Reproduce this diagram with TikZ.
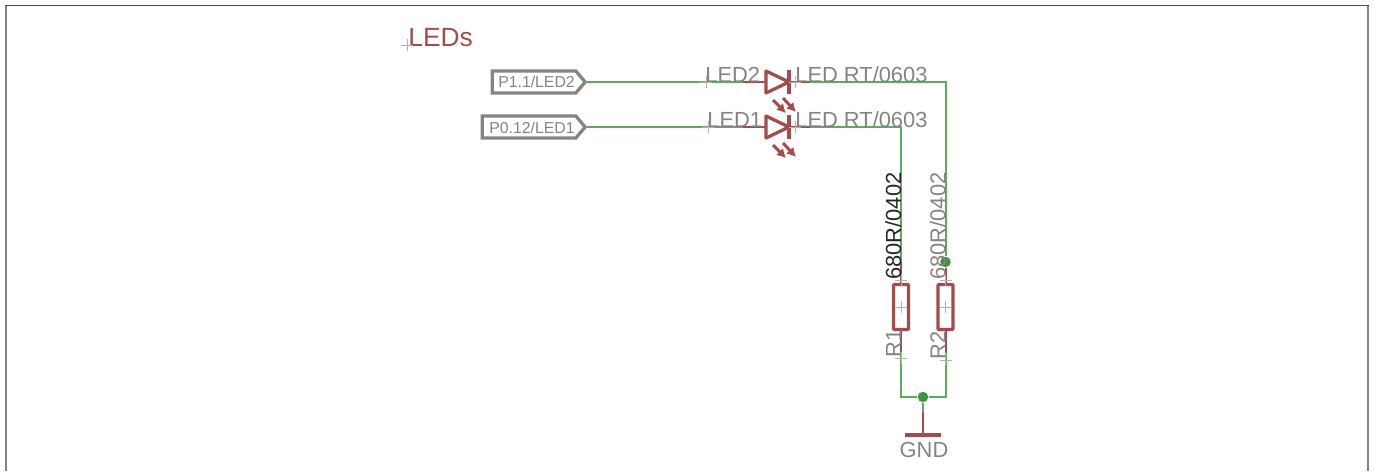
\documentclass[tikz,border=0pt]{standalone}
\usepackage{xcolor}
\usepackage{fontspec}
\setmainfont{Liberation Sans}
\usepackage{tikz}
\usetikzlibrary{arrows.meta,shapes.symbols}

\definecolor{partred}{HTML}{A54B4B}
\definecolor{wiregreen}{HTML}{5AAE5A}
\definecolor{textgray}{HTML}{848484}

\tikzset{
  wire/.style={wiregreen, line width=0.04cm},
  lead/.style={partred, line width=0.04cm},
  part/.style={partred, line width=0.065cm, line join=round},
  ledarrow/.style={partred, line width=0.06cm, -{Latex[length=0.18cm,width=0.2cm]}},
  frame/.style={textgray, line width=0.04cm},
  pintext/.style={textgray, font=\fontsize{9}{9}\selectfont},
  nametext/.style={textgray, inner sep=0, font=\fontsize{12.45}{12.45}\selectfont},
  pinbox/.style={draw=textgray, line width=0.065cm, shape=signal, signal to=east,
    signal pointer angle=100, minimum height=0.44cm, inner sep=0, outer sep=0},
  resistor/.style={draw=partred, line width=0.065cm, rounded corners=0.02cm,
    minimum width=0.3cm, minimum height=0.9cm, inner sep=0, outer sep=0},
  junction/.style={circle, fill=wiregreen!85!green!80!black, minimum size=0.21cm, inner sep=0}
}

\newcommand{\originmark}[2][partred!50]{\draw[#1, line width=0.012cm] (#2) ++(-6,0) -- ++(12,0) ++(-6,-6) -- ++(0,12);}

\begin{document}
\begin{tikzpicture}[x=0.02cm, y=-0.02cm]
\useasboundingbox (0,0) rectangle (1375,471);
\draw [frame] (6,471) -- (6,5.5);
\draw [frame] (1368,5.5) -- (1368,471);
\draw [black!70, line width=0.03cm] (5,5.5) -- (1369,5.5);

\node (title) at (408,46) [anchor=base west, inner sep=0, text=partred, font=\fontsize{15}{15}\selectfont] {LEDs};
\originmark{407,45}

% pins
\node (pin2) at (534,82) [pinbox, minimum width=1.86cm] {};
\node (pin1) at (529,127) [pinbox, minimum width=2.06cm] {};
\node at (536.5,82) [pintext] {P1.1/LED2};
\node at (532,127.5) [pintext] {P0.12/LED1};

% LED2
\coordinate (led2a) at (766,82);
\coordinate (led2c) at (789,82);
\coordinate (led2l) at (743,82);
\coordinate (led2r) at (810,82);
\coordinate (corner2) at (945.5,82);
\draw [wire] (pin2.east) -- (led2l);
\draw [lead] (led2l) -- (led2a);
\draw [lead] (led2c) -- (led2r);
\draw [part] (766,71) -- (789,82) -- (766,93) -- cycle;
\draw [part] (789,70) -- (789,94);
\draw [ledarrow] (773,100) -- (786,113);
\draw [ledarrow] (783,98) -- (796,112);

% LED1
\coordinate (led1a) at (766,127);
\coordinate (led1c) at (789,127);
\coordinate (led1l) at (743,127);
\coordinate (led1r) at (810,127);
\coordinate (corner1) at (901,127);
\draw [wire] (pin1.east) -- (led1l);
\draw [lead] (led1l) -- (led1a);
\draw [lead] (led1c) -- (led1r);
\draw [part] (766,116) -- (789,127) -- (766,138) -- cycle;
\draw [part] (789,115) -- (789,139);
\draw [ledarrow] (773,145) -- (786,158);
\draw [ledarrow] (783,143) -- (796,157);

% resistors
\node (R1) at (901,307) [resistor] {};
\node (R2) at (945.5,307) [resistor] {};
\coordinate (r1top) at (901,262);
\coordinate (r1bot) at (901,352);
\coordinate (r2bot) at (945.5,352);
\coordinate (foot1) at (901,397);
\coordinate (foot2) at (945.5,397);
\node (tap) at (945.5,262) [junction] {};
\node (join) at (923,397) [junction] {};
\coordinate (gndlead) at (923,412);
\coordinate (gndbar) at (923,435);

\draw [wire] (led2r) -- (corner2) -- (tap);
\draw [wire] (led1r) -- (corner1) -- (r1top);
\draw [lead] (r1top) -- (R1.north);
\draw [lead] (tap) -- (R2.north);
\draw [lead] (R1.south) -- (r1bot);
\draw [lead] (R2.south) -- (r2bot);
\draw [wire] (r1bot) -- (foot1) -- (join);
\draw [wire] (r2bot) -- (foot2) -- (join);
\draw [wire] (join) -- (gndlead);
\draw [lead] (gndlead) -- (gndbar);
\draw [part] (905,435) -- (941,435);

\originmark{901,307}
\originmark{945.5,307}
\originmark[gray!60]{706,82}
\originmark[gray!60]{708,127}
\originmark[gray!60]{795,82}
\originmark[gray!60]{795,127}
\originmark[gray!60]{901,280}
\originmark[gray!60]{945.5,280}
\originmark[gray!60]{901,358}
\originmark[gray!60]{945.5,360}

% names and values
\node (led2name) at (705,82) [nametext, anchor=base west] {LED2};
\node (led2val) at (795,82) [nametext, anchor=base west] {LED RT/0603};
\node (led1name) at (707,127) [nametext, anchor=base west] {LED1};
\node (led1val) at (795,127) [nametext, anchor=base west] {LED RT/0603};
\node (r1val) at (901,280) [nametext, text=black!85, anchor=base west, rotate=90] {680R/0402};
\node (r2val) at (945.5,280) [nametext, anchor=base west, rotate=90] {680R/0402};
\node (r1name) at (901,358) [nametext, anchor=base west, rotate=90] {R1};
\node (r2name) at (945.5,360) [nametext, anchor=base west, rotate=90] {R2};
\node (gndname) at (924,450) [nametext] {GND};
\end{tikzpicture}
\end{document}
